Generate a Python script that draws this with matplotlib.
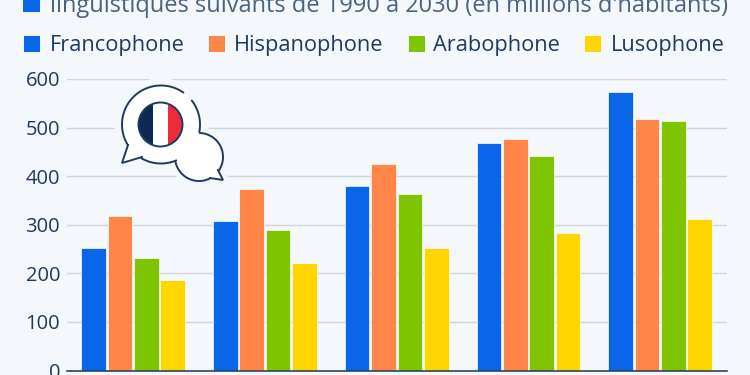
import numpy as np
from matplotlib import pyplot as plt
from matplotlib.patches import Circle, Polygon, Rectangle

years = ['1990', '2000', '2010', '2020', '2030']
series_names = ['Francophone', 'Hispanophone', 'Arabophone', 'Lusophone']
francophone = [253, 308, 379, 468, 573]
hispanophone = [317, 373, 426, 477, 518]
arabophone = [231, 289, 364, 441, 513]
lusophone = [186, 221, 253, 283, 312]
y_ticks = [0, 100, 200, 300, 400, 500, 600]
title_text = "linguistiques suivants de 1990 à 2030 (en millions d'habitants)"

colors = ['#0a66e8', '#ff8548', '#7fc400', '#ffd500']
bg = '#f4f7fb'
dark = '#1f3a5f'
W, H = 750, 375
PITCH = 131.75

plt.rcParams['font.family'] = ['Open Sans', 'DejaVu Sans']

fig = plt.figure(figsize=(7.5, 3.75), dpi=100, facecolor=bg)

# y: 0 -> 370.5px, 600 -> 79px
ax = fig.add_axes([67 / W, (H - 370.5) / H, (727 - 67) / W, (370.5 - 79) / H], facecolor=bg)
x = np.arange(len(years))
bar_w = 24.6 / PITCH
step = 26.35 / PITCH
for i, vals in enumerate([francophone, hispanophone, arabophone, lusophone]):
    ax.bar(x + (i - 1.5) * step, vals, bar_w, color=colors[i], edgecolor='#ffffff', linewidth=0.5, zorder=3)

ax.set_xlim(-(133.2 - 67) / PITCH, (727 - 133.2) / PITCH)
ax.set_ylim(0, 600)
ax.set_yticks(y_ticks)
ax.set_xticks([])
ax.tick_params(axis='y', length=0, labelsize=14.5, labelcolor=dark, pad=5)
ax.grid(axis='y', color='#cfd6de', lw=1, zorder=0)
for s in ['top', 'right', 'left']:
    ax.spines[s].set_visible(False)
ax.spines['bottom'].set_color('#2c4560')
ax.spines['bottom'].set_linewidth(1.2)
ax.spines['bottom'].set_zorder(4)

# overlay in pixel coords for header and icon
ov = fig.add_axes([0, 0, 1, 1], facecolor='none')
ov.set_xlim(0, W)
ov.set_ylim(H, 0)
ov.axis('off')

ov.add_patch(Rectangle((23, -6), 17, 18, color=colors[0], lw=0))
ov.text(50, 12.5, title_text, fontsize=17, color='#4a6382', va='baseline', ha='left', clip_on=False)

leg_box = [24, 209, 408.5, 585]
leg_txt = [50, 234, 433, 611]
for i, name in enumerate(series_names):
    ov.add_patch(Rectangle((leg_box[i], 36), 16, 16, color=colors[i], lw=0))
    ov.text(leg_txt[i], 51.5, name, fontsize=15.7, color=dark, va='baseline', ha='left')


def arc(cx, cy, r, a0, a1):
    t = np.radians(np.linspace(a0, a1, 60))
    ov.plot(cx + r * np.cos(t), cy + r * np.sin(t), color=dark, lw=1.4, zorder=9, solid_capstyle='round')


# speech bubbles icon
bx, by, br = 161, 124.5, 39
sx, sy, sr = 199, 157, 24
big_tail = [[128, 145], [122, 163], [142, 157]]
small_tail = [[218, 170], [223, 180], [210, 178]]

# halo that cuts the grid lines
ov.add_patch(Circle((bx, by), 46.5, fc=bg, ec='none', zorder=5))
ov.add_patch(Circle((sx, sy), 30, fc=bg, ec='none', zorder=5))
ov.add_patch(Polygon(small_tail, fc=bg, ec=bg, lw=8, zorder=5))
ov.add_patch(Polygon(big_tail, fc=bg, ec=bg, lw=8, zorder=5))

# white bodies
ov.add_patch(Circle((bx, by), br, fc='white', ec='none', zorder=6))
ov.add_patch(Circle((sx, sy), sr, fc='white', ec='none', zorder=6))
ov.add_patch(Polygon(big_tail, fc='white', ec='none', zorder=6))
ov.add_patch(Polygon(small_tail, fc='white', ec='none', zorder=6))

# outlines, with the gap at the top right of the big bubble
arc(bx, by, br, -38, 11)
arc(bx, by, br, 67, 120)
arc(bx, by, br, 148, 305)
arc(sx, sy, sr, -88, 34)
arc(sx, sy, sr, 62, 168)
ov.plot(*zip(*big_tail), color=dark, lw=1.4, zorder=9, solid_joinstyle='miter')
ov.plot(*zip(*small_tail), color=dark, lw=1.4, zorder=9, solid_joinstyle='miter')

# flag
fx, fy, fr = 160.5, 124.5, 22
flag = Circle((fx, fy), fr, fc='white', ec='none', zorder=9)
ov.add_patch(flag)
for x0, w, c in [(138, 15, '#0e2a52'), (153, 15, 'white'), (168, 16, '#ee2b3a')]:
    r = Rectangle((x0, 101), w, 47, fc=c, ec='none', zorder=10)
    ov.add_patch(r)
    r.set_clip_path(flag)
ov.add_patch(Circle((fx, fy), fr, fc='none', ec=dark, lw=1.4, zorder=11))

fig.savefig('out.png', dpi=100, facecolor=bg)
